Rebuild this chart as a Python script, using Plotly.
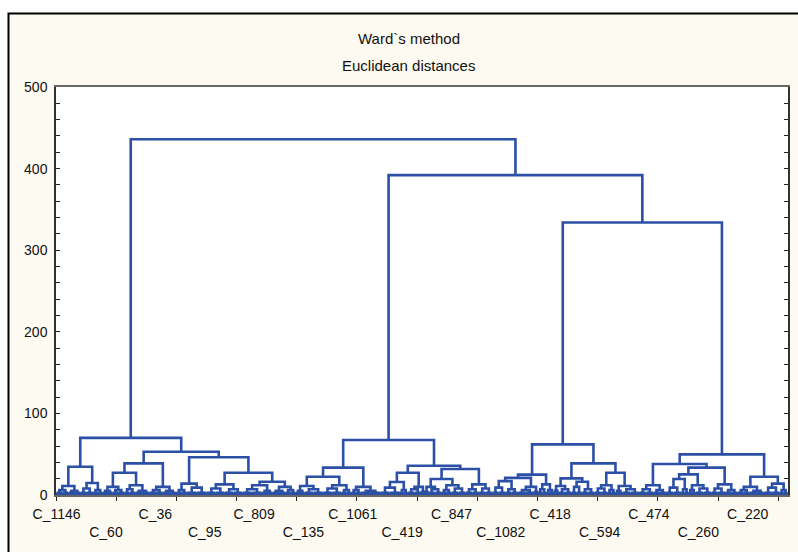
import plotly.graph_objects as go

# ---------------- data ----------------
# Bottom level: 30 small clusters, each made of two twigs (case counts + twig merge height)
twig_size = [20, 20, 21, 16, 16, 20, 18, 24, 22, 22,
             18, 33, 30, 29, 33, 17, 22, 17, 14, 31,
             31, 16, 16, 32, 33, 13, 22, 6, 6, 22,
             16, 24, 22, 22, 22, 21, 26, 8, 13, 12,
             9, 21, 17, 21, 22, 13, 11, 28, 24, 21,
             25, 12, 12, 26, 23, 21, 20, 24, 26, 13]
twig_height = [6, 5, 8, 6, 5, 6, 7, 5, 6, 5,
               6, 9, 8, 7, 7, 5, 5, 6, 5, 7,
               8, 6, 6, 5, 9, 6, 7, 4, 4, 7,
               6, 8, 7, 8, 9, 7, 6, 4, 7, 6,
               5, 7, 10, 7, 8, 6, 5, 7, 7, 6,
               9, 7, 6, 8, 8, 6, 6, 5, 9, 6]
cluster_height = [11, 14.7, 10, 12, 10, 14, 13, 12, 10, 11,
                  12, 10, 16, 10, 10, 12, 13, 17, 10, 13,
                  11, 16.3, 12, 11, 12, 19.6, 12, 13, 10, 14]
leaf_join_height = 2.8   # the dense, unreadable band of tiny links near 0

# Upper tree (linkage): ids 0..29 = bottom clusters, each merge creates id 30, 31, ...
merge_a = [2, 30, 7, 6, 5, 31, 0, 36, 9, 38, 12, 14, 41, 40, 39,
           17, 45, 20, 22, 47, 46, 25, 51, 24, 28, 53, 50, 44, 37]
merge_b = [3, 4, 8, 32, 33, 34, 1, 35, 10, 11, 13, 15, 16, 42, 43,
           18, 19, 21, 23, 48, 49, 26, 27, 52, 29, 54, 55, 56, 57]
merge_h = [27.3, 38.8, 16.3, 27.3, 46.2, 53, 34.7, 70, 22.4, 33.5, 27.3, 19.6, 31.8, 35.9, 67.4,
           21, 25, 20.4, 27.3, 38.8, 62, 25.3, 33.5, 38, 22.4, 49.8, 334, 392, 436]

label_leaf = [1, 83, 165, 247, 329, 411, 493, 575, 657, 739, 821, 903, 985, 1067, 1149]
label_text = ["C_1146", "C_60", "C_36", "C_95", "C_809", "C_135", "C_1061", "C_419",
              "C_847", "C_1082", "C_418", "C_594", "C_474", "C_260", "C_220"]

y_ticks = list(range(0, 501, 20))
x_ticks = list(range(0, 1201, 100))

# ---------------- build dendrogram geometry ----------------
xs, ys = [], []

def link(xa, ha, xb, hb, H):
    xs.extend([xa, xa, xb, xb, None])
    ys.extend([ha, H, H, hb, None])
    return (xa + xb) / 2.0

def comb(first, last, h):
    for p in range(first, last + 1):
        xs.extend([p, p, None])
        ys.extend([0, h, None])
    if last > first:
        xs.extend([first, last, None])
        ys.extend([h, h, None])
    return (first + last) / 2.0

pos = 1
twig_x = []
for n, th in zip(twig_size, twig_height):
    nl = n // 2
    cl = comb(pos, pos + nl - 1, leaf_join_height)
    cr = comb(pos + nl, pos + n - 1, leaf_join_height)
    twig_x.append(link(cl, leaf_join_height, cr, leaf_join_height, th))
    pos += n
n_leaves = pos - 1

node_x, node_h = [], []
for i, ch in enumerate(cluster_height):
    a, b = 2 * i, 2 * i + 1
    node_x.append(link(twig_x[a], twig_height[a], twig_x[b], twig_height[b], ch))
    node_h.append(ch)

for a, b, H in zip(merge_a, merge_b, merge_h):
    node_x.append(link(node_x[a], node_h[a], node_x[b], node_h[b], H))
    node_h.append(H)

BLUE = "#2b50a6"
fig = go.Figure()
fig.add_trace(go.Scatter(x=xs, y=ys, mode="lines", line=dict(color=BLUE, width=2.6),
                         hoverinfo="skip", showlegend=False))
fig.add_trace(go.Scatter(x=label_leaf, y=[0] * len(label_leaf), xaxis="x2", yaxis="y",
                         mode="markers", marker=dict(opacity=0), hoverinfo="skip",
                         showlegend=False))

x_range = [0, n_leaves + 1]
ticktext_rows = [t if i % 2 == 0 else "<br>" + t for i, t in enumerate(label_text)]

fig.update_layout(
    width=798, height=552,
    margin=dict(l=56, r=10, t=87, b=57),
    paper_bgcolor="white", plot_bgcolor="white",
    font=dict(family="Liberation Sans, Arial, sans-serif", size=14, color="#111"),
    showlegend=False,
    xaxis=dict(range=x_range, tickvals=x_ticks, showticklabels=False,
               ticks="outside", ticklen=4, tickcolor="#222", tickwidth=1,
               showline=True, linecolor="#666", linewidth=1.5, mirror=True,
               showgrid=False, zeroline=False, layer="below traces"),
    xaxis2=dict(range=x_range, overlaying="x", anchor="y", side="bottom",
                tickvals=label_leaf, ticktext=ticktext_rows, ticks="",
                showline=False, showgrid=False, zeroline=False,
                ticklabelstandoff=9, automargin=False,
                tickfont=dict(size=14, color="#111")),
    yaxis=dict(range=[0, 500], tickvals=y_ticks,
               ticktext=[str(v) if v % 100 == 0 else "" for v in y_ticks],
               ticks="inside", ticklen=4, tickcolor="#222", tickwidth=1,
               showline=True, linecolor="#333", linewidth=1.5, mirror="ticks",
               showgrid=False, zeroline=False, ticklabelstandoff=4, automargin=False,
               tickfont=dict(size=14, color="#111")),
    shapes=[dict(type="rect", xref="paper", yref="paper",
                 x0=-0.0649, y0=1.1801, x1=1.05, y1=-0.25,
                 line=dict(color="black", width=2), fillcolor="#fdfaf1", layer="below"),
            dict(type="rect", xref="paper", yref="paper",
                 x0=0, y0=0, x1=1, y1=1,
                 line=dict(width=0), fillcolor="white", layer="below")],
    annotations=[
        dict(text="Ward`s method", xref="paper", yref="paper", x=0.4822, y=1.1189,
             showarrow=False, xanchor="center", yanchor="middle", font=dict(size=15, color="#111")),
        dict(text="Euclidean distances", xref="paper", yref="paper", x=0.4822, y=1.0515,
             showarrow=False, xanchor="center", yanchor="middle", font=dict(size=15, color="#111")),
    ],
)

fig.write_html("out.html", config={"displayModeBar": False},
               post_script="document.body.style.margin='0';document.body.style.overflow='hidden';")
